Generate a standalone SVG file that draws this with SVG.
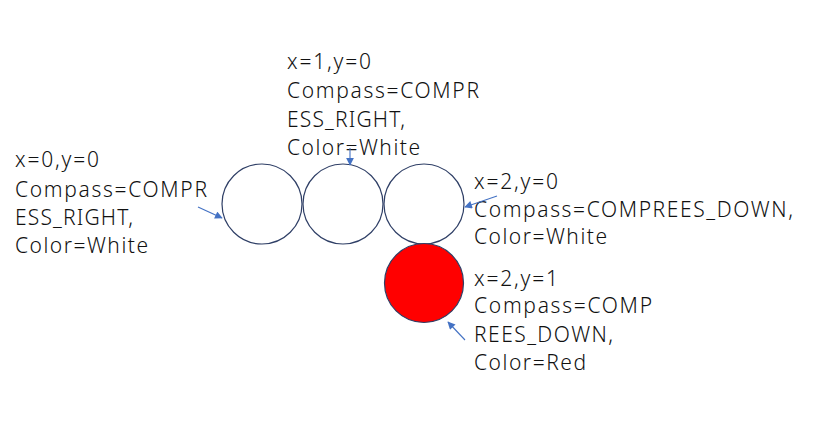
<svg xmlns="http://www.w3.org/2000/svg" width="826" height="431" viewBox="0 0 826 431">
<defs>
<marker id="ah" viewBox="0 0 10 10" refX="9" refY="5" markerWidth="8" markerHeight="7" orient="auto" markerUnits="strokeWidth">
<path d="M0,0 L10,5 L0,10 z" fill="#4472C4"/>
</marker>
<style>
.n{stroke:#2F3F66;stroke-width:1.2}
.t{font-family:"Noto Sans","Liberation Sans",sans-serif;font-size:21px;font-weight:300;fill:#111}
.c{stroke:#4472C4;stroke-width:1.1;fill:none;marker-end:url(#ah)}
</style>
</defs>
<rect width="826" height="431" fill="#fff"/>
<g id="node-0-0">
<circle class="n" cx="262" cy="204" r="40" fill="#fff"/>
<text class="t" lengthAdjust="spacingAndGlyphs">
<tspan x="15" y="167" textLength="84">x=0,y=0</tspan>
<tspan x="15" y="197" textLength="192">Compass=COMPR</tspan>
<tspan x="15" y="225" textLength="118">ESS_RIGHT,</tspan>
<tspan x="15" y="253" textLength="133">Color=White</tspan>
</text>
</g>
<g id="node-1-0">
<circle class="n" cx="343" cy="204" r="40" fill="#fff"/>
<text class="t" lengthAdjust="spacingAndGlyphs">
<tspan x="287" y="69" textLength="84">x=1,y=0</tspan>
<tspan x="287" y="98" textLength="192">Compass=COMPR</tspan>
<tspan x="287" y="127" textLength="118">ESS_RIGHT,</tspan>
<tspan x="287" y="155" textLength="133">Color=White</tspan>
</text>
</g>
<g id="node-2-0">
<circle class="n" cx="424" cy="204" r="40" fill="#fff"/>
<text class="t" lengthAdjust="spacingAndGlyphs">
<tspan x="474" y="189" textLength="84">x=2,y=0</tspan>
<tspan x="474" y="217" textLength="319">Compass=COMPREES_DOWN,</tspan>
<tspan x="474" y="244" textLength="133">Color=White</tspan>
</text>
</g>
<g id="node-2-1">
<circle class="n" cx="424" cy="283" r="39.5" fill="#FF0000"/>
<text class="t" lengthAdjust="spacingAndGlyphs">
<tspan x="474" y="286" textLength="84">x=2,y=1</tspan>
<tspan x="474" y="313" textLength="178">Compass=COMP</tspan>
<tspan x="474" y="342" textLength="139">REES_DOWN,</tspan>
<tspan x="474" y="370" textLength="112">Color=Red</tspan>
</text>
</g>
<g id="connectors">
<line class="c" x1="198" y1="207" x2="222" y2="218"/>
<line class="c" x1="350" y1="148" x2="350" y2="165"/>
<line class="c" x1="497" y1="196" x2="465" y2="207"/>
<line class="c" x1="465" y1="340" x2="448" y2="322"/>
</g>
</svg>
